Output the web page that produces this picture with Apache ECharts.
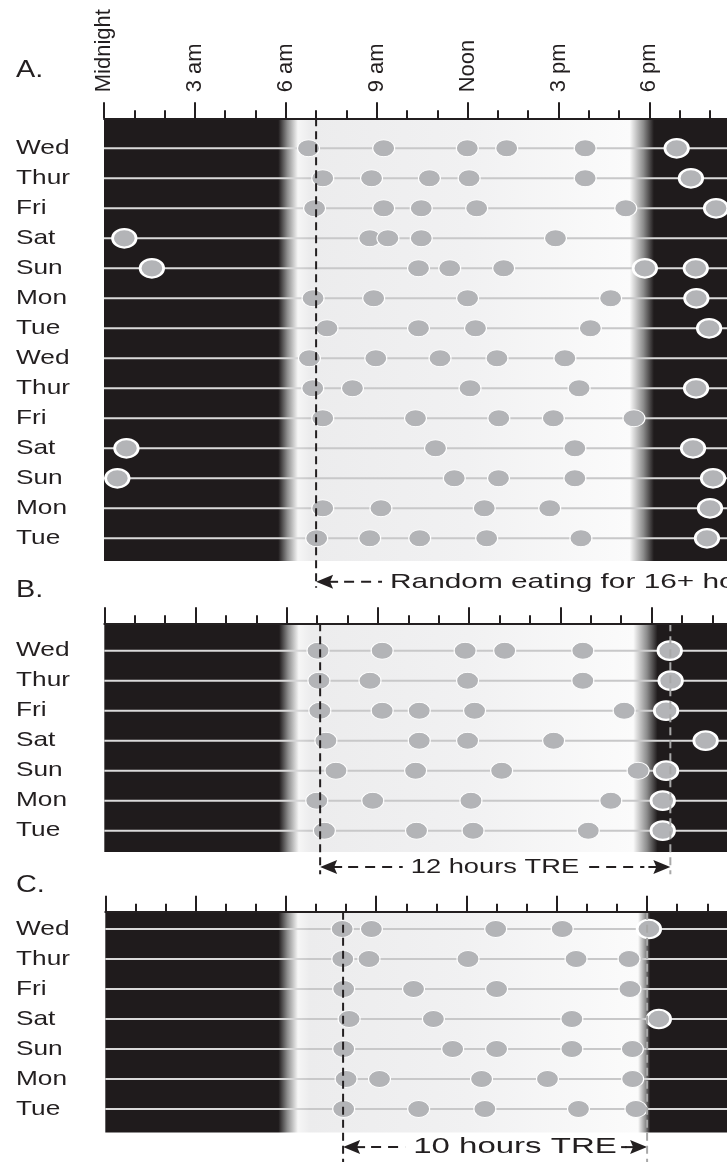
<!DOCTYPE html>
<html>
<head>
<meta charset="utf-8">
<title>Eating pattern</title>
<script src="https://cdn.jsdelivr.net/npm/echarts@6/dist/echarts.min.js"></script>
<style>
    html, body { margin: 0; padding: 0; background: #fff; }
    #main { width: 727px; height: 1162px; overflow: hidden; }
</style>
</head>
<body>
<div id="main"></div>
<script>
// 每行的日期
var daysA = ['Wed', 'Thur', 'Fri', 'Sat', 'Sun', 'Mon', 'Tue', 'Wed', 'Thur', 'Fri', 'Sat', 'Sun', 'Mon', 'Tue'];
var daysB = ['Wed', 'Thur', 'Fri', 'Sat', 'Sun', 'Mon', 'Tue'];
var daysC = ['Wed', 'Thur', 'Fri', 'Sat', 'Sun', 'Mon', 'Tue'];
var hourLabels = ['Midnight', '3 am', '6 am', '9 am', 'Noon', '3 pm', '6 pm'];

// 进食时刻 (小时, 0 = 午夜)
var mealsA = [
    [6.75, 9.23, 11.99, 13.29, 15.88, 18.9],
    [7.22, 8.83, 10.74, 12.05, 15.88, 19.37],
    [6.95, 9.23, 10.47, 12.3, 17.22, 20.2],
    [0.67, 8.77, 9.37, 10.47, 14.9],
    [1.58, 10.38, 11.41, 13.19, 17.85, 19.53],
    [6.9, 8.9, 12.0, 16.72, 19.55],
    [7.36, 10.38, 12.26, 16.05, 19.97],
    [6.78, 8.97, 11.09, 12.97, 15.21],
    [6.89, 8.2, 12.08, 15.68, 19.54],
    [7.22, 10.28, 13.03, 14.83, 17.49],
    [0.74, 10.94, 15.54, 19.44],
    [0.44, 11.56, 13.02, 15.54, 20.1],
    [7.22, 9.14, 12.55, 14.71, 20.0],
    [7.02, 8.77, 10.42, 12.63, 15.74, 19.9]
];
var mealsB = [
    [7.03, 9.14, 11.87, 13.17, 15.74, 18.6],
    [7.06, 8.74, 11.95, 15.74, 18.63],
    [7.09, 9.14, 10.36, 12.18, 17.1, 18.48],
    [7.29, 10.36, 11.95, 14.78, 19.78],
    [7.62, 10.24, 13.07, 17.56, 18.48],
    [6.99, 8.83, 12.06, 16.66, 18.37],
    [7.24, 10.27, 12.13, 15.92, 18.37]
];
var mealsC = [
    [7.87, 8.84, 12.97, 15.18, 18.06],
    [7.89, 8.76, 12.05, 15.64, 17.4],
    [7.92, 10.24, 13.0, 17.43],
    [8.1, 10.9, 15.5, 18.39],
    [7.92, 11.54, 13.0, 15.5, 17.51],
    [8.0, 9.11, 12.5, 14.69, 17.52],
    [7.92, 10.41, 12.61, 15.72, 17.63]
];

// 进食窗口 (虚线位置, 小时)
var windowA = [7.0];
var windowB = [7.1, 18.62];
var windowC = [7.9, 18.0];

// 日出/日落渐变 (小时)
var dawn = [5.75, 6.4];
var duskA = [17.45, 18.15];
var duskB = [17.5, 18.2];
var duskC = [17.8, 18.1];

var INK = '#231f20';
var DARK = '#1f1b1c';
var DOT = '#b3b4b7';
var FONT = '"Liberation Sans", Arial, Helvetica, sans-serif';
var ELLIPSE = 'path://M50,0C77.6,0,100,22.4,100,50C100,77.6,77.6,100,50,100C22.4,100,0,77.6,0,50C0,22.4,22.4,0,50,0Z';

var panels = [
    {days: daysA, meals: mealsA, windows: windowA, dusk: duskA, left: 104, perHour: 30.3, top: 118.3,
        yMin: -1, yMax: 13.76, lineEnd: 14.65, letter: 'A.', letterY: 70, labels: true,
        note: {from: windowA[0], to: 25, y: 14.45, at: 9.44, align: 'left', text: 'Random eating for 16+ hours', size: 21, scaleX: 1.42}},
    {days: daysB, meals: mealsB, windows: windowB, dusk: duskB, left: 104.3, perHour: 30.4, top: 623.3,
        yMin: -0.913, yMax: 6.71, lineEnd: 7.45, letter: 'B.', letterY: 590, labels: false,
        note: {from: windowB[0], to: windowB[1], y: 7.21, at: 12.85, align: 'center', text: '12 hours TRE', size: 21, scaleX: 1.3}},
    {days: daysC, meals: mealsC, windows: windowC, dusk: duskC, left: 105.3, perHour: 30.1, top: 911.7,
        yMin: -0.577, yMax: 6.78, lineEnd: 7.95, letter: 'C.', letterY: 885, labels: false,
        note: {from: windowC[0], to: windowC[1], y: 7.27, at: 13.61, align: 'center', text: '10 hours TRE', size: 22, scaleX: 1.5}}
];

var measureCtx = document.createElement('canvas').getContext('2d');
function textWidth(text, size) {
    measureCtx.font = size + 'px ' + FONT;
    return measureCtx.measureText(text).width;
}

function isNight(h) {
    return h < 5 || h > 17.8;
}

function mealPoints(meals, night) {
    var pts = [];
    meals.forEach(function (row, r) {
        row.forEach(function (h) {
            if (isNight(h) === night) pts.push([h, r]);
        });
    });
    return pts;
}

// 背景: 黑夜 -> 白天 -> 黑夜
function bgStops(dusk) {
    var s = [
        [0, DARK], [dawn[0], DARK], [dawn[0] + 0.3, '#8e8e8e'], [dawn[1], '#f6f6f6'],
        [dawn[1] + 0.4, '#ececed'], [12, '#f1f1f2'], [dusk[0] - 0.1, '#fbfbfb'],
        [(dusk[0] + dusk[1]) / 2, '#8c8c8c'], [dusk[1], DARK], [21, DARK]
    ];
    return s.map(function (d) { return {offset: d[0] / 21, color: d[1]}; });
}
function rowStops(dusk) {
    var s = [
        [0, '#dadada'], [dawn[0] + 0.2, '#dadada'], [dawn[1], '#d4d4d5'], [dawn[1] + 0.4, '#c8c8c9'],
        [dusk[0], '#c8c8c9'], [dusk[1], '#dadada'], [21, '#dadada']
    ];
    return s.map(function (d) { return {offset: d[0] / 21, color: d[1]}; });
}

function bgRender(p) {
    return function (params, api) {
        var a = api.coord([0, p.yMin]);
        var b = api.coord([21, p.yMax]);
        var kids = [{
            type: 'rect',
            shape: {x: a[0], y: a[1], width: b[0] - a[0], height: b[1] - a[1]},
            style: {fill: new echarts.graphic.LinearGradient(0, 0, 1, 0, bgStops(p.dusk))}
        }];
        p.days.forEach(function (d, r) {
            var s = api.coord([0, r]);
            var e = api.coord([21, r]);
            kids.push({
                type: 'line',
                shape: {x1: s[0], y1: s[1], x2: e[0], y2: e[1]},
                style: {stroke: new echarts.graphic.LinearGradient(0, 0, 1, 0, rowStops(p.dusk)), lineWidth: 2}
            });
        });
        return {type: 'group', children: kids};
    };
}

function dayLabelRender(p) {
    return function (params, api) {
        var r = api.value(1);
        var pt = api.coord([0, r]);
        return {
            type: 'text', x: 16, y: pt[1], scaleX: 1.25,
            style: {text: p.days[r], fontSize: 21, fontFamily: FONT, fill: INK, align: 'left', verticalAlign: 'middle'}
        };
    };
}

function arrowHead(x, y, dir) {
    return [
        {type: 'polygon', shape: {points: [[x, y], [x + dir * 17, y - 7], [x + dir * 14, y], [x + dir * 17, y + 7]]}, style: {fill: INK}},
        {type: 'line', shape: {x1: x + dir * 12, y1: y, x2: x + dir * 22, y2: y}, style: {stroke: INK, lineWidth: 2}}
    ];
}

function noteRender(n) {
    return function (params, api) {
        var a = api.coord([n.from, n.y]);
        var b = api.coord([n.to, n.y]);
        var t = api.coord([n.at, n.y]);
        var y = a[1];
        var tw = textWidth(n.text, n.size) * n.scaleX;
        var tl = n.align === 'left' ? t[0] : t[0] - tw / 2;
        var tr = tl + tw;
        var kids = arrowHead(a[0], y, 1);
        kids.push({type: 'line', shape: {x1: a[0] + 28, y1: y, x2: tl - 8, y2: y}, style: {stroke: INK, lineWidth: 2, lineDash: [10, 7]}});
        if (n.align !== 'left') {
            kids.push({type: 'line', shape: {x1: tr + 10, y1: y, x2: b[0] - 26, y2: y}, style: {stroke: INK, lineWidth: 2, lineDash: [10, 7]}});
            kids = kids.concat(arrowHead(b[0], y, -1));
        }
        kids.push({
            type: 'text', x: t[0], y: y, scaleX: n.scaleX,
            style: {text: n.text, fontSize: n.size, fontFamily: FONT, fill: INK, align: n.align, verticalAlign: 'middle'}
        });
        return {type: 'group', children: kids};
    };
}

var grids = [], xAxes = [], yAxes = [], series = [], graphics = [];

panels.forEach(function (p, i) {
    grids.push({
        left: p.left, top: p.top,
        width: 21 * p.perHour,
        height: (p.yMax - p.yMin) * 30,
        outerBoundsMode: 'none',
        containLabel: false
    });
    xAxes.push({
        type: 'value', gridIndex: i, position: 'top', min: 0, max: 21, interval: 3, z: 5,
        axisLine: {show: true, onZero: false, lineStyle: {color: INK, width: 2}},
        axisTick: {show: true, length: 16, lineStyle: {color: INK, width: 2}},
        minorTick: {show: true, splitNumber: 3, length: 8, lineStyle: {color: INK, width: 2}},
        splitLine: {show: false},
        minorSplitLine: {show: false},
        axisLabel: p.labels ? {
            show: true, rotate: -90, margin: 26, fontSize: 22, fontFamily: FONT, color: INK,
            formatter: function (v) { return hourLabels[v / 3] || ''; }
        } : {show: false}
    });
    yAxes.push({
        type: 'value', gridIndex: i, inverse: true, min: p.yMin, max: p.yMax, show: false
    });

    series.push({
        type: 'custom', xAxisIndex: i, yAxisIndex: i, z: 1, silent: true, clip: false,
        data: [[0, 0]], renderItem: bgRender(p)
    });
    series.push({
        type: 'custom', xAxisIndex: i, yAxisIndex: i, z: 1, silent: true, clip: false,
        data: p.days.map(function (d, r) { return [0, r]; }), renderItem: dayLabelRender(p)
    });
    series.push({
        type: 'scatter', xAxisIndex: i, yAxisIndex: i, z: 3, silent: true,
        symbol: ELLIPSE, symbolSize: [22, 17],
        itemStyle: {color: DOT, borderColor: '#fff', borderWidth: 1, opacity: 1},
        data: mealPoints(p.meals, false)
    });
    series.push({
        type: 'scatter', xAxisIndex: i, yAxisIndex: i, z: 3, silent: true,
        symbol: ELLIPSE, symbolSize: [23.5, 18.5],
        itemStyle: {color: DOT, borderColor: '#fff', borderWidth: 2.5, opacity: 1},
        data: mealPoints(p.meals, true)
    });
    p.windows.forEach(function (w, k) {
        series.push({
            type: 'line', xAxisIndex: i, yAxisIndex: i, z: 4, silent: true, clip: false,
            symbol: 'none',
            lineStyle: {color: k === 0 ? INK : '#a8a8a8', width: 2, type: [8, 5]},
            data: [[w, p.yMin], [w, p.lineEnd]]
        });
    });
    series.push({
        type: 'custom', xAxisIndex: i, yAxisIndex: i, z: 4, silent: true, clip: false,
        data: [[p.note.from, p.note.y]], renderItem: noteRender(p.note)
    });

    graphics.push({
        type: 'text', x: 16, y: p.letterY, scaleX: 1.2,
        style: {text: p.letter, fontSize: 24, fontFamily: FONT, fill: INK, verticalAlign: 'middle'}
    });
});

var myChart = echarts.init(document.getElementById('main'));
myChart.setOption({
    animation: false,
    backgroundColor: '#fff',
    grid: grids,
    xAxis: xAxes,
    yAxis: yAxes,
    graphic: graphics,
    series: series
});
</script>
</body>
</html>
